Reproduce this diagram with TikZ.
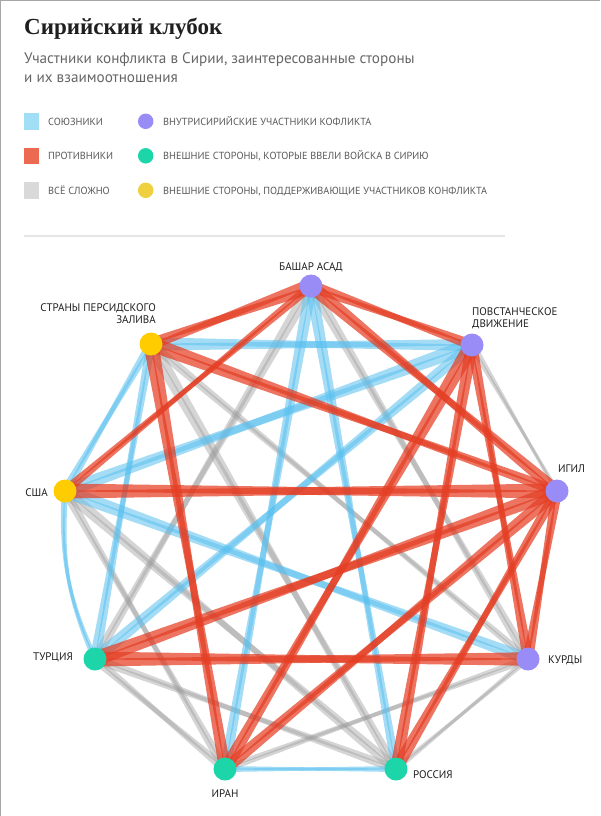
\documentclass[tikz,border=0pt]{standalone}
\usepackage{fontspec}
\setmainfont{PT Sans}
\newfontfamily\titlefont{Liberation Serif}
\usetikzlibrary{calc,backgrounds,positioning}

\definecolor{allyblue}{RGB}{90,192,238}
\definecolor{foered}{RGB}{228,62,36}
\definecolor{mixgray}{RGB}{155,155,155}
\definecolor{keyblue}{RGB}{163,222,247}
\definecolor{keyred}{RGB}{235,106,80}
\definecolor{keygray}{RGB}{217,217,217}
\definecolor{insidepurple}{RGB}{154,140,246}
\definecolor{troopteal}{RGB}{28,214,170}
\definecolor{backyellow}{RGB}{255,204,0}
\definecolor{keyyellow}{RGB}{238,208,64}

% tapered link: from, to, half width at the "from" end, style
\newcommand{\conn}[4]{%
  \fill[#4] ($(#1.center)!#3!90:(#2.center)$) -- ($(#2.center)!0.3pt!-90:(#1.center)$)
    -- ($(#2.center)!0.3pt!90:(#1.center)$) -- ($(#1.center)!#3!-90:(#2.center)$) -- cycle;}

\begin{document}
\begin{tikzpicture}[x=1pt, y=-1pt,
    every node/.style={font=\fontsize{10.3}{12.5}\selectfont},
    party/.style={circle, minimum size=23pt, inner sep=0pt},
    partylabel/.style={inner sep=0pt, text=black!88, font=\fontsize{11}{12.5}\selectfont},
    ally/.style={fill=allyblue, fill opacity=0.55},
    foe/.style={fill=foered, fill opacity=0.72},
    mixed/.style={fill=mixgray, fill opacity=0.42},
    keysq/.style={minimum width=15pt, minimum height=16.5pt, inner sep=0pt},
    keydot/.style={circle, minimum size=15.5pt, inner sep=0pt},
    keytext/.style={anchor=base west, inner sep=0pt, text=black!65}
  ]
  \useasboundingbox (0,0) rectangle (600,816);
  \draw[black!35, line width=2pt] (0,816) -- (0,0) -- (600,0);

  % Title block
  \node[anchor=base west, inner sep=0pt, text=black!88, font=\titlefont\bfseries\fontsize{23}{26}\selectfont] (title) at (24,35) {Сирийский клубок};
  \node[anchor=north west, inner sep=0pt, align=left, text=black!60, font=\fontsize{15.2}{19.3}\selectfont] (subtitle) at (24,52) {Участники конфликта в Сирии, заинтересованные стороны\\и их взаимоотношения};

  % Legend: relations
  \node[keysq, fill=keyblue] (keyally) at (31.5,121.3) {};
  \node[keysq, fill=keyred] (keyfoe) at (31.5,155.8) {};
  \node[keysq, fill=keygray] (keymixed) at (31.5,190.3) {};
  \node[keytext] (keyallytext) at (48,125) {СОЮЗНИКИ};
  \node[keytext] (keyfoetext) at (48,159.5) {ПРОТИВНИКИ};
  \node[keytext] (keymixedtext) at (48,194) {ВСЁ СЛОЖНО};

  % Legend: kinds of parties
  \node[keydot, fill=insidepurple] (keyinside) at (145.7,121.3) {};
  \node[keydot, fill=troopteal] (keytroops) at (145.7,155.8) {};
  \node[keydot, fill=keyyellow] (keyback) at (145.7,190.3) {};
  \node[keytext] (keyinsidetext) at (163,125) {ВНУТРИСИРИЙСКИЕ УЧАСТНИКИ КОФЛИКТА};
  \node[keytext] (keytroopstext) at (163,159.5) {ВНЕШНИЕ СТОРОНЫ, КОТОРЫЕ ВВЕЛИ ВОЙСКА В СИРИЮ};
  \node[keytext] (keybacktext) at (163,194) {ВНЕШНИЕ СТОРОНЫ, ПОДДЕРЖИВАЮЩИЕ УЧАСТНИКОВ КОНФЛИКТА};

  \draw[black!10, line width=1.2pt] (24,236) -- (505,236);

  % Parties on the ring
  \node[party, fill=insidepurple] (assad) at (311,286) {};
  \node[party, fill=insidepurple] (rebels) at (472,345) {};
  \node[party, fill=insidepurple] (igil) at (557,491) {};
  \node[party, fill=insidepurple] (kurds) at (528,659) {};
  \node[party, fill=troopteal] (russia) at (396,769) {};
  \node[party, fill=troopteal] (iran) at (225,769) {};
  \node[party, fill=troopteal] (turkey) at (95,659) {};
  \node[party, fill=backyellow] (usa) at (65,491) {};
  \node[party, fill=backyellow] (gulf) at (151,344) {};

  % Party labels
  \node[partylabel, anchor=north] (assadlabel) at (311,262) {БАШАР АСАД};
  \node[partylabel, anchor=north west, align=left] (rebelslabel) at (472,307) {ПОВСТАНЧЕСКОЕ\\ДВИЖЕНИЕ};
  \node[partylabel, anchor=north west] (igillabel) at (558,465) {ИГИЛ};
  \node[partylabel, anchor=north west] (kurdslabel) at (548,656) {КУРДЫ};
  \node[partylabel, anchor=north west] (russialabel) at (413,770) {РОССИЯ};
  \node[partylabel, anchor=north] (iranlabel) at (225,789) {ИРАН};
  \node[partylabel, anchor=north east] (turkeylabel) at (73,653) {ТУРЦИЯ};
  \node[partylabel, anchor=north east] (usalabel) at (48,488) {США};
  \node[partylabel, anchor=north east, align=right] (gulflabel) at (156,303) {СТРАНЫ ПЕРСИДСКОГО\\ЗАЛИВА};

  % Links, each party's end drawn as its own tapered band
  \begin{scope}[on background layer]
    % grey: it is complicated
    \foreach \a/\b/\w in {assad/turkey/4, assad/kurds/3.5, gulf/russia/4.5, gulf/kurds/3,
        rebels/igil/2.5, igil/rebels/1.5, kurds/assad/3, kurds/gulf/2.5, kurds/iran/2.5,
        kurds/russia/2, russia/kurds/2, russia/turkey/3, russia/usa/3.5, russia/gulf/3,
        iran/kurds/2.5, iran/turkey/3, iran/usa/3, turkey/assad/3, turkey/russia/3,
        turkey/iran/3, usa/russia/4, usa/iran/3}
      \conn{\a}{\b}{1.5*\w pt}{mixed};
    % blue: allies
    \foreach \a/\b/\w in {assad/iran/4, assad/russia/4, gulf/rebels/4.5, gulf/turkey/3,
        gulf/usa/3, rebels/gulf/4, rebels/usa/5, rebels/turkey/4, kurds/usa/4,
        russia/assad/3, russia/iran/2, iran/assad/3.5, iran/russia/2, turkey/gulf/3.5,
        turkey/rebels/4, usa/gulf/3, usa/rebels/4.5, usa/kurds/4.5}
      \conn{\a}{\b}{1.5*\w pt}{ally};
    % blue, bowed: USA and Turkey
    \fill[ally] ($(usa.center)!3.5pt!90:(turkey.center)$) to[bend right=14] ($(turkey.center)!0.3pt!-90:(usa.center)$)
      -- ($(turkey.center)!0.3pt!90:(usa.center)$) to[bend left=14] ($(usa.center)!3.5pt!-90:(turkey.center)$) -- cycle;
    \fill[ally] ($(turkey.center)!3pt!90:(usa.center)$) to[bend left=14] ($(usa.center)!0.3pt!-90:(turkey.center)$)
      -- ($(usa.center)!0.3pt!90:(turkey.center)$) to[bend right=14] ($(turkey.center)!3pt!-90:(usa.center)$) -- cycle;
    % red: enemies
    \foreach \a/\b/\w in {assad/gulf/5, assad/usa/3, assad/igil/4.5, assad/rebels/4,
        gulf/assad/4, gulf/igil/5, gulf/iran/5, rebels/assad/3.5, rebels/iran/5,
        rebels/russia/4, rebels/kurds/3.5, igil/assad/4, igil/gulf/3.5, igil/usa/5,
        igil/turkey/5, igil/iran/4.5, igil/russia/3.5, igil/kurds/3.5, kurds/rebels/3.5,
        kurds/igil/3.5, kurds/turkey/4.5, russia/rebels/4, russia/igil/4, iran/gulf/4,
        iran/rebels/4, iran/igil/4, turkey/igil/5, turkey/kurds/5, usa/assad/3, usa/igil/5}
      \conn{\a}{\b}{1.5*\w pt}{foe};
  \end{scope}
\end{tikzpicture}
\end{document}
